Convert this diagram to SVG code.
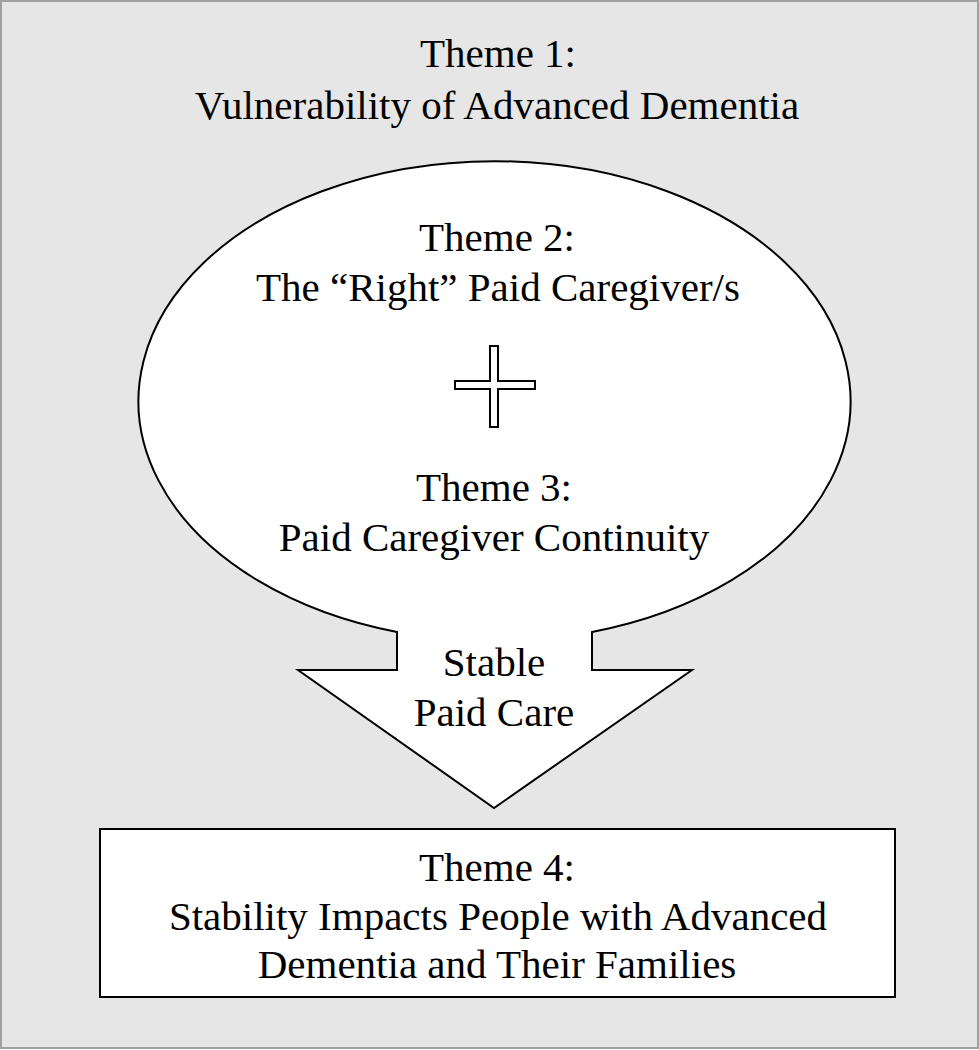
<svg xmlns="http://www.w3.org/2000/svg" width="979" height="1050" viewBox="0 0 979 1050">
<style>
.t{font-family:"Liberation Serif","Times New Roman",serif;font-size:41px;fill:#000;text-anchor:middle}
.s{fill:#fff;stroke:#000;stroke-width:2}
</style>
<rect x="1" y="1" width="977" height="1047" fill="#e6e6e6" stroke="#a0a0a0" stroke-width="2"/>
<g id="theme1">
<text class="t" x="498" y="67">Theme 1:</text>
<text class="t" x="497" y="119">Vulnerability of Advanced Dementia</text>
</g>
<g id="bubble">
<path class="s" d="M397,632 A356,240 0 1 1 592,632 L592,670 L692,670 L494,808 L298,670 L397,670 Z"/>
</g>
<g id="theme2">
<text class="t" x="497" y="251">Theme 2:</text>
<text class="t" x="498" y="301">The “Right” Paid Caregiver/s</text>
</g>
<g id="plus">
<path class="s" d="M490,346 H498 V381 H535 V389 H498 V427 H490 V389 H455 V381 H490 Z"/>
</g>
<g id="theme3">
<text class="t" x="494" y="501">Theme 3:</text>
<text class="t" x="494" y="551">Paid Caregiver Continuity</text>
</g>
<g id="connectors">
<text class="t" x="494" y="676">Stable</text>
<text class="t" x="494" y="726">Paid Care</text>
</g>
<g id="theme4">
<rect class="s" x="100" y="829" width="795" height="168"/>
<text class="t" x="497" y="881">Theme 4:</text>
<text class="t" x="498" y="930">Stability Impacts People with Advanced</text>
<text class="t" x="497" y="978">Dementia and Their Families</text>
</g>
</svg>
